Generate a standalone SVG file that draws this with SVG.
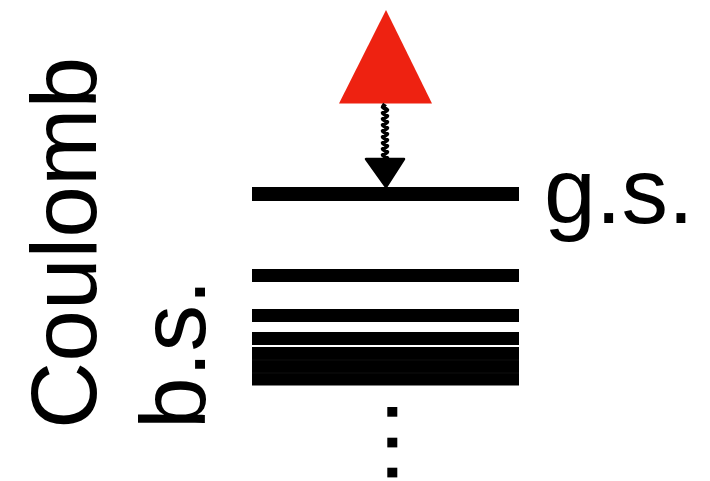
<svg xmlns="http://www.w3.org/2000/svg" width="710" height="481" viewBox="0 0 710 481">
<style>
.lbl{font-family:"Liberation Sans",Arial,sans-serif;font-size:93px;fill:#000}
.bar{fill:#000}
.dot{fill:#000}
</style>
<rect width="710" height="481" fill="#fff"/>
<g id="source">
<polygon points="386,10 339,103.5 432,103.5" fill="#ee2211"/>
</g>
<g id="connectors">
<path d="M385,104 l-2,3 l4,3 l-4,3 l4,3 l-4,3 l4,3 l-4,3 l4,3 l-4,3 l4,3 l-4,3 l4,3 l-4,3 l4,3 l-4,3 l4,3 l-4,3 l4,3 l-4,3 l2,3" fill="none" stroke="#000" stroke-width="4.5" stroke-linejoin="round"/>
<polygon points="366,159 404,159 386,187" fill="#000" stroke="#000" stroke-width="2.5" stroke-linejoin="round"/>
</g>
<g id="levels">
<rect class="bar" x="252" y="187" width="267" height="14"/>
<rect class="bar" x="252" y="269" width="267" height="13"/>
<rect class="bar" x="252" y="309" width="267" height="13"/>
<rect class="bar" x="252" y="332" width="267" height="13"/>
<rect class="bar" x="252" y="347" width="267" height="38.5"/>
<line x1="252" y1="360" x2="519" y2="360" stroke="#1a1a1a" stroke-width="0.6"/>
<line x1="252" y1="373" x2="519" y2="373" stroke="#1a1a1a" stroke-width="0.6"/>
</g>
<g id="dots">
<rect class="dot" x="387.3" y="407" width="10" height="9.7"/>
<rect class="dot" x="387.3" y="437.7" width="10" height="9.7"/>
<rect class="dot" x="387.3" y="467.7" width="10" height="9.7"/>
</g>
<g id="label-gs">
<text class="lbl" x="544" y="223">g.s.</text>
</g>
<g id="label-coulomb">
<text class="lbl" transform="translate(96,429) rotate(-90)">Coulomb</text>
</g>
<g id="label-bs">
<text class="lbl" transform="translate(205,429) rotate(-90)">b.s.</text>
</g>
</svg>
